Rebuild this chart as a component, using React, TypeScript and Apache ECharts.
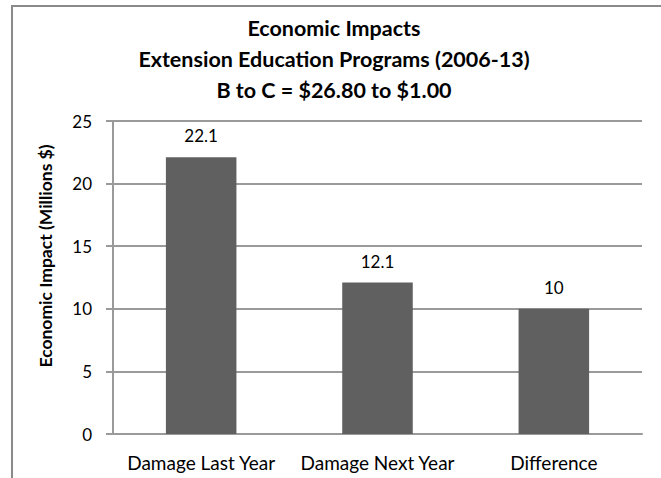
import React, { useEffect, useRef } from "react";
import * as echarts from "echarts";

const categories = ["Damage Last Year", "Damage Next Year", "Difference"];
const impacts = [22.1, 12.1, 10];
const titleLines = [
  "Economic Impacts",
  "Extension Education Programs (2006-13)",
  "B to C = $26.80 to $1.00",
];
const yAxisTitle = "Economic Impact (Millions $)";

const FONT = "Lato, 'Noto Sans', sans-serif";

export default function App() {
  const ref = useRef<HTMLDivElement>(null);

  useEffect(() => {
    if (!ref.current) return;
    const chart = echarts.init(ref.current, undefined, { renderer: "svg" });
    chart.setOption({
      animation: false,
      backgroundColor: "#ffffff",
      textStyle: { fontFamily: FONT },
      title: {
        text: titleLines.join("\n"),
        left: 334,
        top: 12,
        padding: 0,
        textAlign: "center",
        textStyle: {
          fontFamily: FONT,
          fontSize: 21.5,
          fontWeight: "bold",
          color: "#000",
          lineHeight: 31,
        },
      },
      graphic: [
        {
          type: "rect",
          shape: { x: 12, y: 6, width: 700, height: 520 },
          style: { fill: "none", stroke: "#8a8a8a", lineWidth: 2 },
          z: 100,
          silent: true,
        },
        {
          type: "text",
          x: 45,
          y: 256,
          rotation: Math.PI / 2,
          style: {
            text: yAxisTitle,
            fontFamily: FONT,
            fontSize: 17.5,
            fontWeight: "bold",
            fill: "#000",
            align: "center",
            verticalAlign: "middle",
          },
        },
      ],
      grid: { left: 113, right: 19, top: 121, bottom: 44 },
      xAxis: {
        type: "category",
        data: categories,
        axisLine: { lineStyle: { color: "#9a9a9a", width: 2 } },
        axisTick: { show: false },
        axisLabel: {
          margin: 19,
          fontFamily: FONT,
          fontSize: 19,
          color: "#000",
          interval: 0,
        },
      },
      yAxis: {
        type: "value",
        min: 0,
        max: 25,
        interval: 5,
        axisLine: { show: true, lineStyle: { color: "#9a9a9a", width: 2 } },
        axisTick: { show: true, length: 7, lineStyle: { color: "#9a9a9a", width: 2 } },
        axisLabel: { margin: 21, fontFamily: FONT, fontSize: 17, color: "#000" },
        splitLine: { lineStyle: { color: "#9a9a9a", width: 2 } },
      },
      series: [
        {
          type: "bar",
          data: impacts,
          barCategoryGap: "60%",
          itemStyle: { color: "#606060" },
          label: {
            show: true,
            position: "top",
            distance: 13,
            fontFamily: FONT,
            fontSize: 17,
            color: "#000",
          },
        },
      ],
    });
    return () => chart.dispose();
  }, []);

  return (
    <div
      ref={ref}
      style={{ position: "fixed", left: 0, top: 0, width: 661, height: 478 }}
    />
  );
}
